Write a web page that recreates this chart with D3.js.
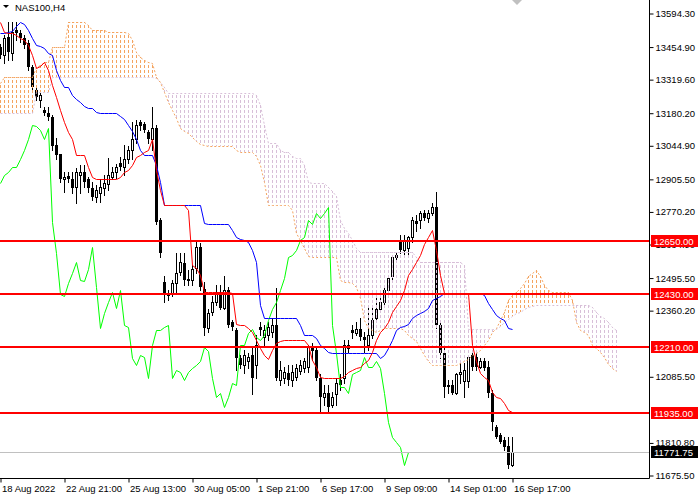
<!DOCTYPE html>
<html>
<head>
    <meta charset="utf-8">
    <title>NAS100,H4</title>
    <script src="https://d3js.org/d3.v7.min.js"></script>
    <style>
        body {
            margin: 0;
            background: #fff;
        }
        svg {
            display: block;
            font-family: "Liberation Sans", Arial, sans-serif;
            font-size: 9.5px;
        }
    </style>
</head>
<body>
    <svg width="700" height="500"></svg>

    <script>
    // chart data (prices)
    const symbol = "NAS100,H4";

    // [open, high, low, close] per H4 bar
    const candles = [
        [13457,13469,13411,13424],[13424,13507,13390,13494],[13498,13557,13403,13436],[13432,13557,13403,13519],
        [13527,13557,13486,13515],[13515,13527,13478,13494],[13494,13507,13453,13465],[13473,13486,13361,13374],
        [13374,13382,13278,13287],[13278,13299,13237,13249],[13237,13266,13208,13257],[13195,13208,13174,13183],
        [13183,13208,13154,13166],[13166,13174,13029,13042],[13050,13079,12988,13008],[13012,13012,12896,12905],
        [12909,12934,12855,12917],[12921,12938,12896,12909],[12909,12934,12850,12871],[12875,12954,12809,12934],
        [12925,12967,12850,12934],[12934,12967,12875,12896],[12905,12917,12855,12871],[12871,12896,12821,12834],
        [12834,12884,12813,12863],[12850,12905,12813,12875],[12871,12925,12842,12892],[12888,12996,12863,12925],
        [12917,12958,12905,12938],[12934,12971,12913,12958],[12975,13000,12946,12958],[12958,13050,12925,12988],
        [12988,13042,12975,13029],[13029,13145,12988,13071],[13071,13154,13058,13133],[13145,13154,13112,13129],
        [13137,13145,13104,13112],[13104,13112,13058,13071],[13071,13208,13029,13120],[13120,13133,12722,12730],
        [12738,12747,12585,12601],[12481,12502,12398,12431],[12431,12448,12406,12423],[12435,12489,12419,12477],
        [12477,12601,12435,12518],[12522,12601,12510,12564],[12556,12601,12468,12489],[12493,12531,12468,12485],
        [12489,12551,12468,12535],[12539,12647,12518,12626],[12626,12643,12448,12460],[12452,12481,12261,12290],
        [12290,12365,12273,12352],[12356,12419,12344,12398],[12398,12468,12385,12439],[12439,12468,12365,12373],
        [12373,12502,12365,12448],[12448,12460,12294,12302],[12311,12323,12281,12294],[12281,12290,12115,12165],
        [12165,12178,12124,12136],[12136,12198,12103,12178],[12149,12186,12124,12169],[12178,12207,12012,12082],
        [12136,12261,12082,12219],[12294,12315,12261,12281],[12252,12302,12219,12281],[12261,12315,12240,12294],
        [12273,12331,12252,12302],[12302,12456,12074,12082],[12074,12149,12053,12115],[12082,12128,12061,12107],
        [12103,12136,12053,12074],[12074,12136,12049,12107],[12086,12140,12074,12124],[12111,12157,12095,12136],
        [12124,12165,12107,12149],[12128,12219,12107,12211],[12211,12227,12157,12194],[12198,12211,12074,12082],
        [12082,12095,11941,12003],[12003,12053,11970,12020],[12020,12053,11941,11962],[11970,12024,11958,12003],
        [12012,12082,11970,12061],[12074,12095,12032,12053],[12082,12240,12061,12219],[12207,12240,12190,12219],
        [12281,12302,12248,12269],[12269,12315,12261,12286],[12286,12331,12240,12252],[12252,12273,12190,12240],
        [12219,12373,12198,12261],[12261,12373,12248,12323],[12331,12414,12323,12365],[12365,12414,12356,12398],
        [12398,12456,12385,12448],[12448,12510,12439,12497],[12502,12593,12489,12585],[12585,12605,12564,12593],
        [12647,12676,12601,12614],[12614,12676,12593,12655],[12622,12672,12593,12664],[12664,12751,12647,12738],
        [12734,12759,12689,12722],[12738,12772,12705,12767],[12767,12780,12738,12747],[12747,12780,12730,12767],
        [12767,12809,12759,12792],[12792,12855,12290,12302],[12302,12315,12165,12186],[12186,12211,12003,12045],
        [12053,12074,12020,12045],[12053,12074,12012,12020],[12020,12103,12012,12095],[12095,12144,12061,12107],
        [12066,12144,12003,12115],[12066,12178,12045,12169],[12178,12186,12115,12128],[12169,12186,12115,12128],
        [12128,12165,12124,12149],[12149,12165,12115,12124],[12128,12149,12003,12020],[12020,12032,11866,11899],
        [11879,11887,11833,11837],[11845,11854,11812,11816],[11825,11837,11783,11792],[11796,11837,11708,11721],
        [11721,11837,11717,11771.75]
    ];

    // Ichimoku lines
    const tenkan = [
        13557,13519,13515,13515,13507,13494,13486,13465,13424,13370,13378,13394,13361,13299,13249,13195,
        13145,13104,13071,13008,13008,13008,12958,12917,12905,12905,12905,12905,12905,12905,12917,12938,
        12946,12967,13000,13008,13017,13029,13071,12946,12863,12801,12801,12801,12801,12801,12801,12780,
        12551,12539,12510,12439,12439,12439,12439,12439,12439,12439,12435,12306,12302,12302,12290,12273,
        12240,12207,12178,12161,12198,12227,12236,12240,12240,12240,12240,12240,12240,12219,12157,12128,
        12086,12082,12082,12082,12082,12082,12090,12107,12115,12120,12128,12144,12157,12190,12240,12273,
        12290,12315,12356,12381,12406,12448,12510,12535,12564,12593,12635,12668,12697,12614,12510,12435,
        12435,12435,12435,12435,12435,12435,12219,12149,12103,12086,12074,12024,12003,11999,11978,11949,
        11941
    ];
    const kijun = [
        13515,13515,13519,13523,13544,13557,13552,13527,13494,13465,13461,13453,13432,13424,13361,13320,
        13291,13287,13257,13241,13228,13212,13203,13203,13187,13183,13183,13183,13183,13179,13170,13158,
        13133,13108,13071,13029,13008,13008,13008,12967,12896,12801,12801,12801,12801,12801,12801,12801,
        12801,12801,12801,12726,12722,12722,12722,12722,12722,12722,12697,12664,12659,12655,12647,12614,
        12564,12385,12331,12331,12331,12331,12331,12331,12331,12331,12331,12302,12261,12257,12257,12248,
        12219,12203,12190,12186,12186,12186,12186,12186,12186,12186,12186,12186,12186,12186,12186,12165,
        12178,12207,12240,12281,12294,12298,12306,12331,12344,12352,12360,12373,12406,12414,12419,12435,
        12435,12435,12435,12435,12435,12435,12435,12435,12435,12427,12394,12365,12344,12331,12323,12290,
        12286
    ];
    // senkou spans, 26 bars further than the last candle
    const spanA = [
        13307,13332,13332,13332,13332,13332,13332,13332,13332,13374,13382,13394,13394,13457,13457,13457,
        13457,13557,13557,13557,13557,13557,13548,13527,13527,13527,13527,13519,13519,13519,13519,13519,
        13515,13486,13436,13415,13403,13394,13390,13332,13311,13270,13228,13195,13162,13120,13108,13096,
        13083,13066,13054,13050,13046,13042,13042,13042,13042,13042,13042,13029,13021,13021,13017,13017,
        13004,12967,12896,12801,12801,12801,12801,12801,12801,12780,12684,12655,12622,12589,12585,12585,
        12585,12585,12585,12585,12585,12489,12481,12481,12477,12460,12414,12323,12290,12281,12273,12281,
        12290,12290,12290,12290,12290,12281,12257,12248,12236,12207,12174,12149,12136,12136,12136,12136,
        12136,12136,12136,12144,12149,12161,12178,12186,12198,12219,12240,12273,12290,12323,12356,12406,
        12427,12439,12456,12477,12502,12518,12531,12502,12468,12444,12439,12439,12439,12439,12439,12406,
        12315,12281,12273,12261,12219,12203,12190,12169,12140,12120,12111
    ];
    const spanB = [
        13183,13183,13183,13183,13183,13183,13183,13183,13183,13270,13270,13270,13270,13332,13332,13332,
        13332,13332,13332,13332,13332,13332,13332,13332,13332,13332,13332,13332,13332,13332,13332,13332,
        13332,13332,13332,13332,13332,13332,13332,13328,13311,13287,13266,13266,13266,13266,13266,13266,
        13266,13266,13266,13266,13266,13266,13266,13266,13266,13266,13266,13266,13266,13266,13266,13266,
        13257,13216,13133,13058,13058,13058,13029,13017,13017,13004,12996,12996,12967,12896,12892,12892,
        12892,12892,12875,12859,12838,12738,12705,12684,12655,12622,12605,12605,12605,12605,12605,12605,
        12605,12605,12605,12605,12605,12605,12605,12605,12581,12564,12564,12564,12564,12564,12564,12564,
        12564,12564,12564,12564,12551,12286,12286,12286,12286,12286,12286,12286,12286,12298,12315,12327,
        12340,12352,12356,12369,12377,12381,12385,12385,12385,12385,12385,12385,12385,12385,12385,12385,
        12385,12385,12385,12385,12377,12356,12340,12331,12315,12294,12281
    ];
    // chikou span = close plotted 26 bars back
    const chikou = candles.slice(26).map(c => c[3]);

    const levels = [12650, 12430, 12210, 11935];
    const bid = 11771.75;

    // scale labels that are not covered by the level tags
    const priceTicks = [13594.30, 13454.90, 13319.60, 13180.20, 13044.90, 12905.50, 12770.20, 12634.90,
                        12495.50, 12360.20, 12085.50, 11810.80, 11675.50];
    const timeBars = [0, 16, 32, 48, 64, 80, 96, 112, 128];
    const timeLabels = ["18 Aug 2022", "22 Aug 21:00", "25 Aug 13:00", "30 Aug 05:00", "1 Sep 21:00",
                        "6 Sep 17:00", "9 Sep 09:00", "14 Sep 01:00", "16 Sep 17:00"];

    let svg = d3.select("svg");
    const plotW = 649, plotH = 478;

    let x = d3.scaleLinear().domain([0, 160]).range([0, 640]);
    let y = d3.scaleLinear().domain([11675.5, 13594.3]).range([475.5, 13.5]);
    const cx = i => Math.round(x(i)) + 0.5;
    const cy = v => Math.round(y(v)) + 0.5;

    svg.append("rect").attr("width", 700).attr("height", 500).attr("fill", "#fff");
    svg.append("defs").append("clipPath").attr("id", "clip")
        .append("rect").attr("width", plotW).attr("height", plotH);

    let plot = svg.append("g").attr("clip-path", "url(#clip)");

    // candles
    let bars = plot.append("g").selectAll("g")
        .data(candles)
        .enter().append("g");

    bars.append("line")
        .attr("x1", (d, i) => cx(i)).attr("x2", (d, i) => cx(i))
        .attr("y1", d => Math.round(y(d[1]))).attr("y2", d => Math.round(y(d[2])) + 1)
        .attr("stroke", "#000");

    bars.filter(d => d[3] < d[0]).append("rect")
        .attr("x", d => cx(candles.indexOf(d)) - 1.5)
        .attr("width", 3)
        .attr("y", d => Math.round(y(d[0])))
        .attr("height", d => Math.max(1, Math.round(y(d[3])) - Math.round(y(d[0]))))
        .attr("fill", "#000");

    bars.filter(d => d[3] >= d[0]).append("rect")
        .attr("x", d => cx(candles.indexOf(d)) - 1)
        .attr("width", 2)
        .attr("y", d => cy(d[3]))
        .attr("height", d => Math.max(1, cy(d[0]) - cy(d[3])))
        .attr("fill", "#fff")
        .attr("stroke", "#000");

    // kumo hatching, one dotted column per bar
    plot.append("g").selectAll("line")
        .data(spanA)
        .enter().append("line")
        .attr("x1", (d, i) => cx(i)).attr("x2", (d, i) => cx(i))
        .attr("y1", (d, i) => Math.round(y(Math.max(d, spanB[i]))))
        .attr("y2", (d, i) => Math.round(y(Math.min(d, spanB[i]))))
        .attr("stroke", (d, i) => d >= spanB[i] ? "#F4A460" : "#D8BFD8")
        .attr("stroke-dasharray", "3,2")
        .attr("stroke-dashoffset", (d, i) => Math.round(y(Math.max(d, spanB[i]))) % 5);

    let line = d3.line()
        .x((d, i) => cx(i))
        .y(d => cy(d));

    plot.append("path").attr("d", line(spanB))
        .attr("fill", "none").attr("stroke", "#D8BFD8").attr("stroke-dasharray", "2,2");
    plot.append("path").attr("d", line(spanA))
        .attr("fill", "none").attr("stroke", "#F4A460").attr("stroke-dasharray", "2,2");

    // tenkan, kijun, chikou
    plot.append("path").attr("d", line(chikou))
        .attr("fill", "none").attr("stroke", "#00FF00");
    plot.append("path").attr("d", line(kijun))
        .attr("fill", "none").attr("stroke", "#0000FF");
    plot.append("path").attr("d", line(tenkan))
        .attr("fill", "none").attr("stroke", "#FF0000");

    // bid line
    plot.append("line")
        .attr("x1", 0).attr("x2", plotW)
        .attr("y1", cy(bid)).attr("y2", cy(bid))
        .attr("stroke", "#C0C0C0");

    // horizontal levels
    plot.append("g").selectAll("line")
        .data(levels)
        .enter().append("line")
        .attr("x1", 0).attr("x2", plotW)
        .attr("y1", d => Math.round(y(d))).attr("y2", d => Math.round(y(d)))
        .attr("stroke", "#FF0000")
        .attr("stroke-width", 2);

    // axes frame
    svg.append("line").attr("x1", plotW + 0.5).attr("x2", plotW + 0.5)
        .attr("y1", 0).attr("y2", plotH + 0.5).attr("stroke", "#000");
    svg.append("line").attr("x1", 0).attr("x2", plotW + 0.5)
        .attr("y1", plotH + 0.5).attr("y2", plotH + 0.5).attr("stroke", "#000");

    // price axis
    let yAxis = svg.append("g")
        .attr("transform", `translate(${plotW + 0.5},0)`)
        .call(d3.axisRight(y).tickValues(priceTicks).tickFormat(d3.format(".2f")).tickSize(4).tickPadding(2));
    yAxis.select(".domain").remove();
    yAxis.selectAll("text").attr("font-size", "9.5px").attr("font-family", "Liberation Sans, Arial, sans-serif").attr("fill", "#000");

    // time axis
    let xAxis = svg.append("g")
        .attr("transform", `translate(0.5,${plotH + 0.5})`)
        .call(d3.axisBottom(x).tickValues(timeBars).tickFormat((d, i) => timeLabels[i]).tickSize(4).tickPadding(3));
    xAxis.select(".domain").remove();
    xAxis.selectAll("text")
        .attr("text-anchor", "start")
        .attr("dx", "1")
        .attr("font-size", "9.5px").attr("font-family", "Liberation Sans, Arial, sans-serif").attr("fill", "#000");

    // level labels on the price scale
    let tags = svg.append("g").selectAll("g")
        .data(levels)
        .enter().append("g")
        .attr("transform", d => `translate(651,${Math.round(y(d))})`);
    tags.append("rect")
        .attr("x", 0).attr("y", -6).attr("width", 47).attr("height", 12)
        .attr("fill", "#FF0000");
    tags.append("text")
        .attr("x", 3).attr("y", 4)
        .attr("fill", "#fff")
        .text(d => d3.format(".2f")(d));

    let bidTag = svg.append("g").attr("transform", `translate(651,${Math.round(y(bid))})`);
    bidTag.append("rect")
        .attr("x", 0).attr("y", -6).attr("width", 47).attr("height", 12)
        .attr("fill", "#000");
    bidTag.append("text")
        .attr("x", 3).attr("y", 4)
        .attr("fill", "#fff")
        .text(d3.format(".2f")(bid));

    // title
    svg.append("path").attr("d", "M3,5L9,5L6,8Z").attr("fill", "#000");
    svg.append("text").attr("x", 15).attr("y", 11).attr("fill", "#000").text(symbol);

    // chart shift marker
    svg.append("path").attr("d", "M512,0L522,0L517,5Z").attr("fill", "#C0C0C0");
    </script>
</body>
</html>
